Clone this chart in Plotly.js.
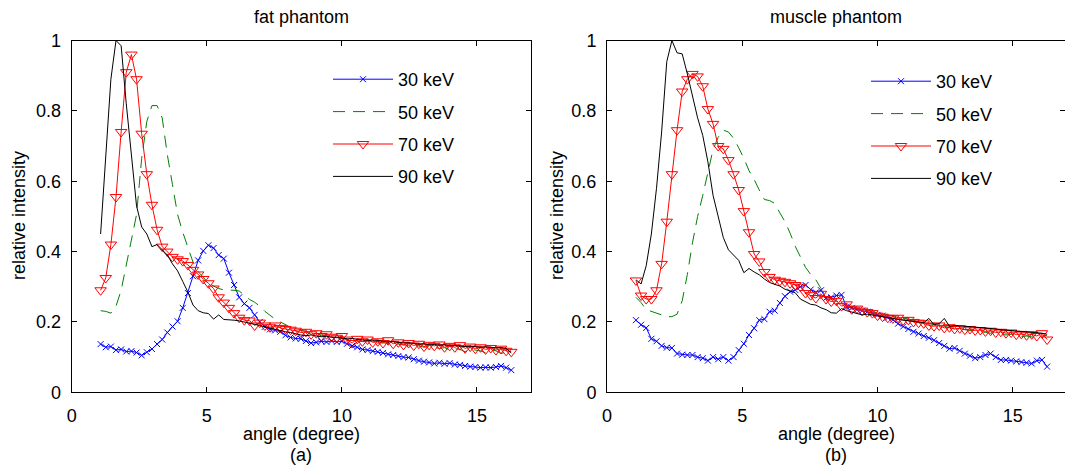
<!DOCTYPE html>
<html>
<head>
<meta charset="utf-8">
<script src="https://cdn.plot.ly/plotly-3.0.1.min.js"></script>
<style>html,body{margin:0;padding:0;background:#fff;}#chart{width:1065px;height:470px;}</style>
</head>
<body>
<div id="chart"></div>
<script>
// angle grid (degree)
const angle = [1.07,1.26,1.45,1.64,1.83,2.02,2.21,2.40,2.59,2.78,2.97,3.16,3.35,3.54,3.73,3.92,4.11,4.30,4.49,4.68,
  4.87,5.06,5.25,5.44,5.63,5.82,6.01,6.20,6.39,6.58,6.77,6.96,7.15,7.34,7.53,7.72,7.91,8.10,8.29,8.48,
  8.67,8.86,9.05,9.24,9.43,9.62,9.81,10.00,10.19,10.38,10.57,10.76,10.95,11.14,11.33,11.52,11.71,11.90,12.09,12.28,
  12.47,12.66,12.85,13.04,13.23,13.42,13.61,13.80,13.99,14.18,14.37,14.56,14.75,14.94,15.13,15.32,15.51,15.70,15.89,16.08,16.27];

const seriesNames = ["30 keV", "50 keV", "70 keV", "90 keV"];
const panelTitles = ["fat phantom", "muscle phantom"];
const panelLabels = ["(a)", "(b)"];
const xTicks = [0, 5, 10, 15];
const yTicks = [0, 0.2, 0.4, 0.6, 0.8, 1];

// fat phantom
const fat30 = [0.137,0.128,0.130,0.120,0.122,0.116,0.117,0.113,0.105,0.114,0.123,0.137,0.150,0.170,0.187,0.202,0.240,0.282,0.330,0.375,
  0.402,0.418,0.410,0.390,0.380,0.340,0.305,0.270,0.252,0.240,0.220,0.200,0.186,0.179,0.176,0.172,0.162,0.156,0.153,0.152,
  0.146,0.140,0.142,0.145,0.143,0.146,0.143,0.145,0.138,0.132,0.128,0.122,0.120,0.117,0.115,0.112,0.108,0.106,0.103,0.100,
  0.099,0.094,0.090,0.087,0.085,0.082,0.084,0.081,0.083,0.079,0.078,0.075,0.073,0.072,0.070,0.071,0.070,0.072,0.075,0.070,0.063];
const fat50 = [0.232,0.230,0.225,0.245,0.290,0.360,0.425,0.505,0.665,0.770,0.815,0.815,0.780,0.675,0.590,0.505,0.455,0.410,0.370,0.343,
  0.326,0.312,0.302,0.295,0.291,0.291,0.290,0.288,0.275,0.264,0.256,0.245,0.230,0.218,0.208,0.200,0.192,0.185,0.180,0.176,
  0.172,0.170,0.166,0.163,0.160,0.158,0.155,0.153,0.150,0.148,0.146,0.144,0.145,0.142,0.140,0.141,0.138,0.136,0.137,0.134,
  0.133,0.130,0.132,0.128,0.130,0.127,0.125,0.127,0.120,0.124,0.122,0.115,0.123,0.120,0.118,0.112,0.120,0.118,0.110,0.115,0.108];
const fat70 = [0.290,0.325,0.420,0.555,0.740,0.910,0.960,0.890,0.735,0.620,0.533,0.462,0.414,0.400,0.385,0.378,0.373,0.362,0.348,0.335,
  0.322,0.310,0.295,0.270,0.255,0.240,0.225,0.212,0.205,0.204,0.190,0.198,0.190,0.185,0.190,0.183,0.180,0.178,0.175,0.170,
  0.172,0.165,0.168,0.160,0.165,0.158,0.155,0.160,0.150,0.140,0.152,0.145,0.150,0.142,0.145,0.140,0.148,0.138,0.142,0.135,
  0.140,0.133,0.138,0.130,0.135,0.132,0.136,0.128,0.132,0.128,0.134,0.125,0.130,0.124,0.128,0.122,0.126,0.120,0.124,0.118,0.115];
const fat90 = [0.450,0.680,0.890,1.000,0.985,0.820,0.670,0.530,0.470,0.450,0.414,0.420,0.405,0.390,0.365,0.345,0.315,0.285,0.248,0.232,
  0.226,0.224,0.208,0.220,0.207,0.207,0.205,0.203,0.200,0.198,0.195,0.190,0.186,0.182,0.178,0.175,0.172,0.170,0.166,0.163,
  0.161,0.163,0.160,0.158,0.159,0.156,0.157,0.155,0.152,0.153,0.150,0.149,0.148,0.146,0.147,0.145,0.143,0.144,0.141,0.140,
  0.141,0.138,0.137,0.138,0.135,0.136,0.134,0.135,0.132,0.133,0.131,0.130,0.131,0.129,0.128,0.129,0.127,0.126,0.127,0.125,0.112];

// muscle phantom
const mus30 = [0.205,0.192,0.183,0.152,0.145,0.132,0.127,0.126,0.110,0.107,0.106,0.106,0.100,0.097,0.090,0.100,0.094,0.100,0.090,0.100,
  0.120,0.138,0.163,0.182,0.205,0.208,0.229,0.232,0.254,0.273,0.286,0.291,0.300,0.305,0.292,0.284,0.290,0.268,0.270,0.275,
  0.277,0.243,0.240,0.235,0.232,0.229,0.225,0.220,0.218,0.212,0.206,0.195,0.187,0.180,0.172,0.167,0.160,0.155,0.148,0.140,
  0.132,0.124,0.126,0.118,0.110,0.104,0.097,0.100,0.106,0.110,0.100,0.092,0.092,0.090,0.088,0.086,0.084,0.082,0.090,0.092,0.073];
const mus50 = [0.270,0.255,0.235,0.230,0.225,0.220,0.215,0.215,0.222,0.260,0.335,0.425,0.500,0.560,0.625,0.690,0.725,0.745,0.740,0.722,
  0.695,0.665,0.630,0.605,0.575,0.548,0.545,0.537,0.510,0.485,0.452,0.415,0.385,0.355,0.335,0.320,0.295,0.280,0.268,0.260,
  0.252,0.248,0.243,0.240,0.236,0.232,0.228,0.225,0.222,0.220,0.217,0.215,0.212,0.210,0.205,0.200,0.197,0.195,0.192,0.190,
  0.188,0.185,0.180,0.182,0.178,0.175,0.176,0.172,0.170,0.168,0.170,0.165,0.163,0.165,0.162,0.158,0.160,0.158,0.155,0.160,0.162];
const mus70 = [0.318,0.275,0.265,0.265,0.290,0.365,0.485,0.620,0.745,0.855,0.890,0.905,0.898,0.870,0.805,0.763,0.700,0.692,0.660,0.620,
  0.575,0.515,0.455,0.393,0.372,0.342,0.328,0.320,0.317,0.314,0.310,0.305,0.300,0.282,0.276,0.268,0.280,0.265,0.258,0.260,
  0.245,0.250,0.236,0.238,0.232,0.228,0.225,0.218,0.215,0.212,0.210,0.212,0.205,0.206,0.200,0.198,0.196,0.190,0.188,0.190,
  0.183,0.185,0.180,0.182,0.178,0.180,0.176,0.177,0.173,0.175,0.170,0.172,0.168,0.170,0.164,0.166,0.162,0.165,0.160,0.168,0.150];
const mus90 = [0.320,0.308,0.360,0.450,0.580,0.740,0.940,1.000,0.965,0.962,0.905,0.840,0.780,0.730,0.655,0.560,0.500,0.440,0.405,0.390,
  0.375,0.340,0.352,0.342,0.334,0.322,0.312,0.307,0.302,0.293,0.288,0.283,0.265,0.258,0.250,0.248,0.240,0.235,0.226,0.225,
  0.238,0.232,0.228,0.222,0.220,0.222,0.220,0.218,0.216,0.212,0.210,0.207,0.205,0.203,0.200,0.200,0.198,0.210,0.192,0.195,
  0.210,0.188,0.190,0.189,0.188,0.186,0.185,0.184,0.182,0.183,0.180,0.178,0.177,0.176,0.175,0.173,0.172,0.171,0.170,0.168,0.165];

const FONT = "Liberation Sans, Arial, Helvetica, sans-serif";

function makeTraces(vals, xa, ya, leg) {
  const styles = [
    {mode: "lines+markers", line: {color: "#0000ff", width: 1}, marker: {symbol: "x-thin-open", size: 6, color: "#0000ff", line: {width: 1, color: "#0000ff"}}},
    {mode: "lines", line: {color: "#008000", width: 1, dash: "12px,8px"}},
    {mode: "lines+markers", line: {color: "#ff0000", width: 1}, marker: {symbol: "triangle-down-open", size: 10, color: "#ff0000", line: {width: 1, color: "#ff0000"}}},
    {mode: "lines", line: {color: "#000000", width: 1}}
  ];
  return vals.map((v, k) => Object.assign({
    type: "scatter", x: angle, y: v, name: seriesNames[k], xaxis: xa, yaxis: ya,
    legend: leg, legendgroup: leg + k, showlegend: true
  }, styles[k]));
}

const data = [].concat(
  makeTraces([fat30, fat50, fat70, fat90], "x", "y", "legend"),
  makeTraces([mus30, mus50, mus70, mus90], "x2", "y2", "legend2")
);

const W = 1065, H = 470;
const yBot = 1 - 392.3 / H, yTop = 1 - 40.5 / H;
const axisCommon = {
  showline: true, linecolor: "#000", linewidth: 1, mirror: "ticks",
  ticks: "inside", ticklen: 5, tickwidth: 1, tickcolor: "#000",
  showgrid: false, zeroline: false, tickfont: {family: FONT, size: 18, color: "#000"}
};
const legendCommon = {
  bgcolor: "rgba(0,0,0,0)", borderwidth: 0, font: {family: FONT, size: 18, color: "#000"},
  xanchor: "left", yanchor: "top", tracegroupgap: 6, itemwidth: 60
};

const annots = [];
const centers = [(71.7 + 531) / 2 / W, (607 + 1065) / 2 / W];
const tf = {family: FONT, size: 18, color: "#000"};
function ann(text, x, y, extra) {
  return Object.assign({text: text, x: x, y: y, xref: "paper", yref: "paper", showarrow: false,
    xanchor: "center", yanchor: "middle", font: tf}, extra || {});
}
for (let p = 0; p < 2; p++) {
  annots.push(ann(panelTitles[p], centers[p], 1 - 17 / H));
  annots.push(ann("angle (degree)", centers[p], 1 - 434 / H));
  annots.push(ann(panelLabels[p], centers[p], 1 - 455 / H));
}
annots.push(ann("relative intensity", 19 / W, 1 - 216 / H, {textangle: -90}));
annots.push(ann("relative intensity", 557 / W, 1 - 216 / H, {textangle: -90}));

const layout = {
  width: W, height: H, margin: {l: 0, r: 0, t: 0, b: 0},
  paper_bgcolor: "#fff", plot_bgcolor: "#fff", showlegend: true,
  xaxis: Object.assign({}, axisCommon, {domain: [71.7 / W, 531 / W], range: [0, 17], tickvals: xTicks, ticklabelstandoff: 7, anchor: "y"}),
  yaxis: Object.assign({}, axisCommon, {domain: [yBot, yTop], range: [0, 1], tickvals: yTicks, ticklabelstandoff: 6, anchor: "x"}),
  xaxis2: Object.assign({}, axisCommon, {domain: [607 / W, 1], range: [0, (1065 - 607) / 27.05], tickvals: xTicks, ticklabelstandoff: 7, anchor: "y2"}),
  yaxis2: Object.assign({}, axisCommon, {domain: [yBot, yTop], range: [0, 1], tickvals: yTicks, ticklabelstandoff: 6, anchor: "x2"}),
  legend: Object.assign({}, legendCommon, {x: 328 / W, y: 1 - 61 / H}),
  legend2: Object.assign({}, legendCommon, {x: 866 / W, y: 1 - 63 / H}),
  annotations: annots
};

Plotly.newPlot("chart", data, layout, {staticPlot: true, displayModeBar: false});
</script>
</body>
</html>
